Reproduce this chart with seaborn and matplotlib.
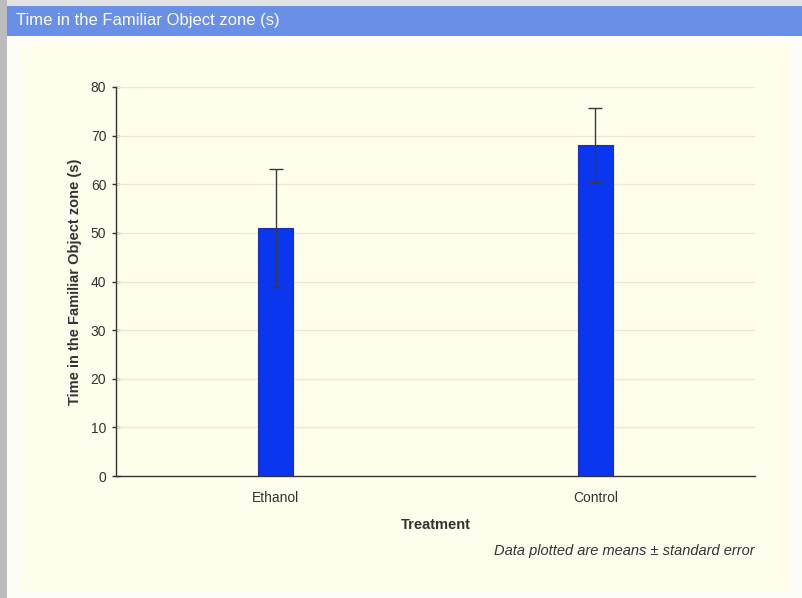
import matplotlib
matplotlib.use("Agg")
import matplotlib.pyplot as plt
from matplotlib.patches import Rectangle
import seaborn as sns
import pandas as pd

treatments = ["Ethanol", "Control"]
mean_time = [51.0, 68.0]
std_error = [12.2, 7.6]
y_ticks = [0, 10, 20, 30, 40, 50, 60, 70, 80]

sns.set_style("white")
plt.rcParams["font.family"] = ["Liberation Sans", "DejaVu Sans"]

W, H = 802, 598
fig = plt.figure(figsize=(W / 100, H / 100), dpi=100)
fig.patch.set_facecolor("#ffffff")

def box(x0, y0, x1, y1, color):
    fig.add_artist(Rectangle((x0 / W, 1 - y1 / H), (x1 - x0) / W, (y1 - y0) / H,
                             transform=fig.transFigure, facecolor=color,
                             edgecolor="none", zorder=-10))

# page frame, header bar and chart panel
box(0, 0, W, 6, "#e2e2e2")
box(0, 0, 7, H, "#bcbcbc")
box(7, 6, W, 36, "#6a8fe6")
box(7, 36, W, H, "#fdfdf8")
box(20, 44, 792, 592, "#fffeec")
fig.text(16 / W, 1 - 21 / H, "Time in the Familiar Object zone (s)",
         color="white", fontsize=12, va="center", ha="left")

ax = fig.add_axes([116 / W, 1 - 476 / H, (755 - 116) / W, (476 - 87) / H])
ax.set_facecolor("none")

df = pd.DataFrame({"Treatment": treatments, "Time": mean_time})
sns.barplot(data=df, x="Treatment", y="Time", ax=ax, color="#0a36f0",
            width=0.11, errorbar=None, edgecolor="#1a2fb0", linewidth=0.8,
            saturation=1, zorder=3)
ax.errorbar(range(len(treatments)), mean_time, yerr=std_error, fmt="none",
            ecolor="#3a3a3a", elinewidth=1.0, capsize=5, capthick=1.0, zorder=4)

ax.set_xlim(-0.5, 1.5)
ax.set_ylim(0, 80)
ax.set_yticks(y_ticks)
for y in y_ticks[1:]:
    ax.axhline(y, color="#ebe9d4", linewidth=1.0, zorder=1)

for side in ["top", "right"]:
    ax.spines[side].set_visible(False)
for side in ["left", "bottom"]:
    ax.spines[side].set_color("#333333")
    ax.spines[side].set_linewidth(1.0)

ax.tick_params(axis="y", direction="inout", length=6, width=1, color="#333333",
               labelsize=10, labelcolor="#333333", pad=4, left=True)
ax.set_xticks([-0.5, 0.5, 1.5], minor=True)
ax.tick_params(axis="x", which="minor", direction="inout", length=5, width=1,
               color="#333333")
ax.tick_params(axis="x", which="major", length=0, labelsize=10,
               labelcolor="#333333", pad=11)

ax.set_xlabel("Treatment", fontsize=10.5, fontweight="bold", color="#333333",
              labelpad=9)
ax.set_ylabel("Time in the Familiar Object zone (s)", fontsize=10.5,
              fontweight="bold", color="#333333", labelpad=6)

fig.text(755 / W, 1 - 551 / H, "Data plotted are means \u00b1 standard error",
         fontsize=10.5, style="italic", color="#333333", ha="right", va="center")

fig.savefig("out.png", dpi=100)
